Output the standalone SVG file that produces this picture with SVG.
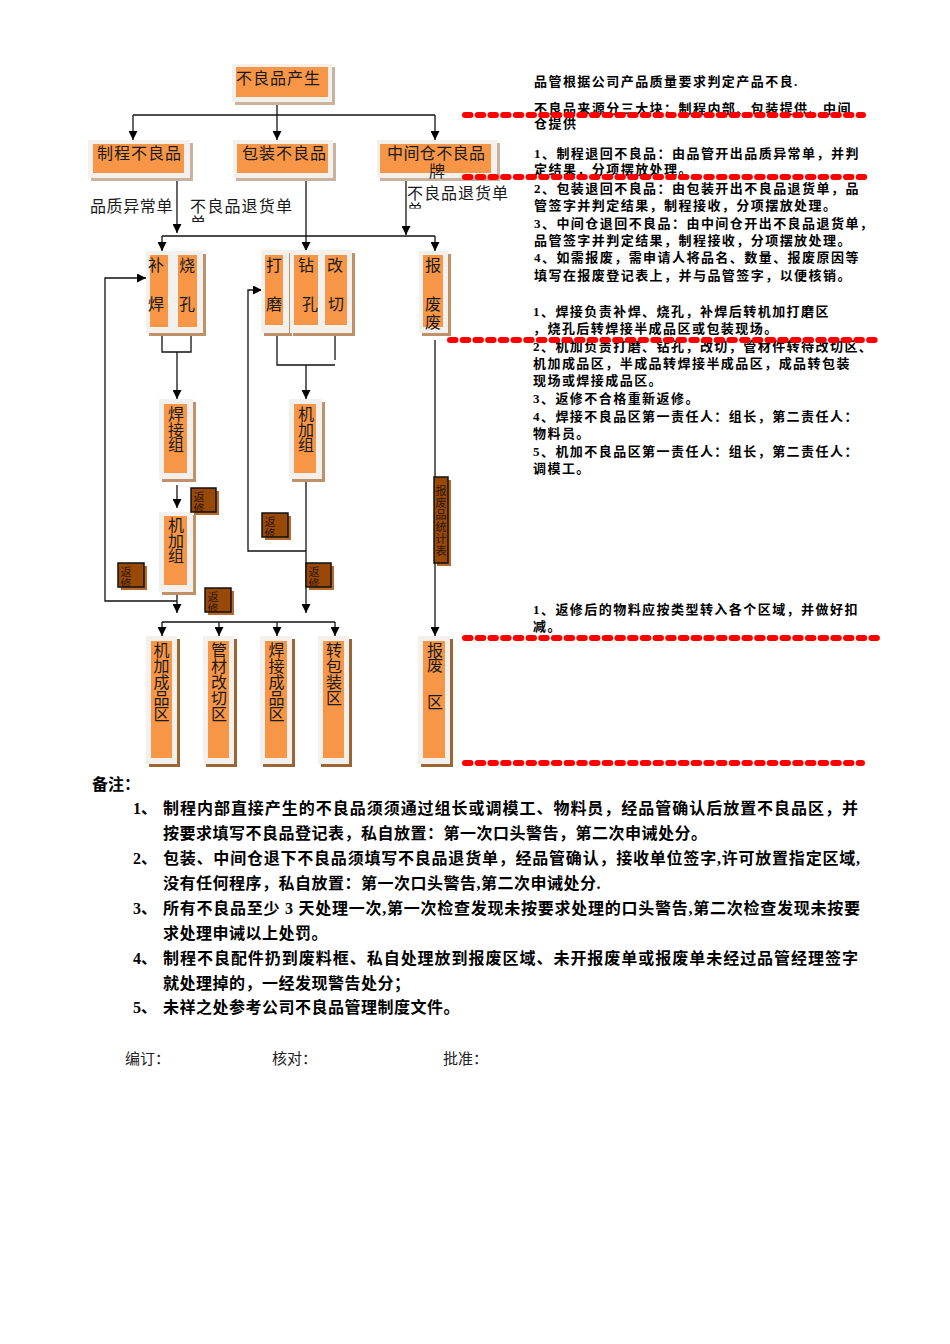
<svg xmlns="http://www.w3.org/2000/svg" width="950" height="1344" viewBox="0 0 950 1344">
<defs>
<style>
.sh{fill:#c9b39e}
.shv{fill:#c09068}
.shd{fill:#9c6536}
.out{fill:#f3f0ed}
.in{fill:#f79646}
.t{font-family:"Noto Sans CJK SC",sans-serif;font-size:16px;fill:#1a1a1a}
.tl{letter-spacing:1px}
.v{writing-mode:vertical-rl}
.ln{fill:none;stroke:#111;stroke-width:1.3}
.ar{marker-end:url(#ah)}
.rx{fill:#984807;stroke:#111;stroke-width:1.5}
.rxs{fill:#b8692e}
.rt{font-family:"Noto Sans CJK SC",sans-serif;font-size:11px;fill:#2e1400;letter-spacing:1px}
.p{font-family:"Liberation Serif","Noto Sans CJK SC",serif;font-size:13px;font-weight:bold;fill:#000;letter-spacing:1.45px}
.n{font-family:"Liberation Serif","Noto Sans CJK SC",serif;font-size:16px;font-weight:bold;fill:#000}
.nl{letter-spacing:0.5px}
.s{font-family:"Liberation Serif","Noto Sans CJK SC",serif;font-size:15px;fill:#222}
.red{fill:none;stroke:#f00;stroke-width:6;stroke-linecap:round;stroke-dasharray:5.5 7.2}
</style>
<marker id="ah" markerUnits="userSpaceOnUse" markerWidth="9" markerHeight="9" refX="9" refY="4.5" orient="auto"><path d="M0,0L9,4.5L0,9z" fill="#000"/></marker>
<clipPath id="c1"><rect x="186" y="190" width="120" height="32"/></clipPath>
<clipPath id="c2"><rect x="403" y="178" width="120" height="30.5"/></clipPath>
<clipPath id="r1c"><rect x="191" y="488" width="25" height="24"/></clipPath>
<clipPath id="r2c"><rect x="118" y="563" width="26" height="24"/></clipPath>
<clipPath id="r3c"><rect x="205" y="588" width="26" height="24"/></clipPath>
<clipPath id="r4c"><rect x="262" y="513" width="26" height="24"/></clipPath>
<clipPath id="r5c"><rect x="306" y="563" width="25" height="24"/></clipPath>
</defs>

<!-- connectors -->
<g id="connectors">
<path class="ln" d="M277,102V115"/>
<path class="ln" d="M133,115H435"/>
<path class="ln ar" d="M133,115V140"/>
<path class="ln ar" d="M277,115V140"/>
<path class="ln ar" d="M435,115V140"/>
<path class="ln ar" d="M177,178V233"/>
<path class="ln ar" d="M306,178V251"/>
<path class="ln ar" d="M406,178V235"/>
<path class="ln" d="M162,236H435"/>
<path class="ln ar" d="M162,236V251"/>
<path class="ln ar" d="M435,236V251"/>
<path class="ln" d="M162,336V352H191V336"/>
<path class="ln ar" d="M177,352V399"/>
<path class="ln" d="M277,336V365H335"/>
<path class="ln" d="M335,336V360"/>
<path class="ln ar" d="M306,365V399"/>
<path class="ln ar" d="M435,340V636"/>
<path class="ln ar" d="M177,485V508"/>
<path class="ln ar" d="M177,592V613"/>
<path class="ln ar" d="M306,479V613"/>
<path class="ln ar" d="M177,601H105V278H146"/>
<path class="ln ar" d="M306,551H248V290H262"/>
<path class="ln" d="M162,622H335"/>
<path class="ln ar" d="M162,622V636"/>
<path class="ln ar" d="M219,622V636"/>
<path class="ln ar" d="M277,622V636"/>
<path class="ln ar" d="M335,622V636"/>
</g>

<!-- top row -->
<g id="n-produce">
<rect class="sh" x="235" y="67" width="100" height="38"/>
<rect class="out" x="232" y="64" width="100" height="38"/>
<rect class="in" x="236" y="67" width="92" height="30"/>
<text class="t tl" x="236" y="84">不良品产生</text>
</g>
<g id="n-process">
<rect class="sh" x="91" y="143" width="102" height="38"/>
<rect class="out" x="88" y="140" width="102" height="38"/>
<rect class="in" x="93" y="144" width="91" height="29"/>
<text class="t tl" x="97" y="159">制程不良品</text>
</g>
<g id="n-pack">
<rect class="sh" x="236" y="143" width="100" height="38"/>
<rect class="out" x="233" y="140" width="100" height="38"/>
<rect class="in" x="237" y="144" width="91" height="29"/>
<text class="t tl" x="242" y="159">包装不良品</text>
</g>
<g id="n-warehouse">
<rect class="sh" x="380" y="143" width="120" height="38"/>
<rect class="out" x="377" y="140" width="120" height="38"/>
<rect class="in" x="380" y="144" width="111" height="29"/>
<text class="t" letter-spacing="0.4"><tspan x="387" y="159">中间仓不良品</tspan><tspan x="429" y="177">牌</tspan></text>
</g>

<!-- labels -->
<g id="labels">
<text class="t" x="90" y="212" letter-spacing="0.6">品质异常单</text>
<text class="t" letter-spacing="1.2" clip-path="url(#c1)"><tspan x="190" y="212">不良品退货单</tspan><tspan x="190" y="229">单</tspan></text>
<text class="t" letter-spacing="1" clip-path="url(#c2)"><tspan x="407" y="199">不良品退货单</tspan><tspan x="407" y="216">单</tspan></text>
</g>

<!-- third row -->
<g id="n-buhan">
<rect class="shv" x="149" y="254" width="28" height="82"/>
<rect class="out" x="146" y="251" width="28" height="82"/>
<rect class="in" x="150" y="255" width="18" height="72"/>
<text class="t" x="148" y="271">补</text><text class="t" x="148" y="310">焊</text>
</g>
<g id="n-shaokong">
<rect class="shv" x="177" y="254" width="29" height="82"/>
<rect class="out" x="174" y="251" width="29" height="82"/>
<rect class="in" x="178" y="255" width="19" height="72"/>
<text class="t" x="179" y="271">烧</text><text class="t" x="179" y="310">孔</text>
</g>
<g id="n-damo">
<rect class="shv" x="264" y="253" width="28" height="83"/>
<rect class="out" x="261" y="250" width="28" height="83"/>
<rect class="in" x="265" y="255" width="18" height="70"/>
<text class="t" x="266" y="271">打</text><text class="t" x="266" y="310">磨</text>
</g>
<g id="n-zuankong">
<rect class="shv" x="293" y="253" width="32" height="83"/>
<rect class="out" x="290" y="250" width="32" height="83"/>
<rect class="in" x="294" y="255" width="24" height="70"/>
<text class="t" x="298" y="271">钻</text><text class="t" x="302" y="310">孔</text>
</g>
<g id="n-gaiqie">
<rect class="shv" x="325" y="253" width="30" height="83"/>
<rect class="out" x="322" y="250" width="30" height="83"/>
<rect class="in" x="325" y="255" width="22" height="70"/>
<text class="t" x="327" y="271">改</text><text class="t" x="328" y="310">切</text>
</g>
<g id="n-baofei">
<rect class="shv" x="422" y="254" width="29" height="82"/>
<rect class="out" x="419" y="251" width="29" height="82"/>
<rect class="in" x="423" y="255" width="20" height="72"/>
<text class="t" x="425" y="271">报</text>
<text class="t v" x="433" y="296" letter-spacing="2">废废</text>
</g>

<!-- middle -->
<g id="n-hanjiezu">
<rect class="shv" x="162" y="402" width="34" height="80"/>
<rect class="out" x="159" y="399" width="34" height="80"/>
<rect class="in" x="164" y="404" width="23" height="69"/>
<text class="t v" x="176" y="406" letter-spacing="-0.5">焊接组</text>
</g>
<g id="n-jijiazu1">
<rect class="shv" x="162" y="515" width="34" height="80"/>
<rect class="out" x="159" y="512" width="34" height="80"/>
<rect class="in" x="164" y="516" width="23" height="69"/>
<text class="t v" x="176" y="517" letter-spacing="-0.5">机加组</text>
</g>
<g id="n-jijiazu2">
<rect class="shv" x="292" y="402" width="33" height="80"/>
<rect class="out" x="289" y="399" width="33" height="80"/>
<rect class="in" x="294" y="404" width="22" height="69"/>
<text class="t v" x="306" y="406" letter-spacing="-0.5">机加组</text>
</g>

<!-- rework boxes -->
<g id="r1">
<rect class="rxs" x="194" y="491" width="25" height="24"/>
<rect class="rx" x="191" y="488" width="25" height="24"/>
<text class="rt v" x="199" y="491.5" clip-path="url(#r1c)">返修</text>
</g>
<g id="r2">
<rect class="rxs" x="121" y="566" width="26" height="24"/>
<rect class="rx" x="118" y="563" width="26" height="24"/>
<text class="rt v" x="126" y="566.5" clip-path="url(#r2c)">返修</text>
</g>
<g id="r3">
<rect class="rxs" x="208" y="591" width="26" height="24"/>
<rect class="rx" x="205" y="588" width="26" height="24"/>
<text class="rt v" x="213" y="591.5" clip-path="url(#r3c)">返修</text>
</g>
<g id="r4">
<rect class="rxs" x="265" y="516" width="26" height="24"/>
<rect class="rx" x="262" y="513" width="26" height="24"/>
<text class="rt v" x="270" y="516.5" clip-path="url(#r4c)">返修</text>
</g>
<g id="r5">
<rect class="rxs" x="309" y="566" width="25" height="24"/>
<rect class="rx" x="306" y="563" width="25" height="24"/>
<text class="rt v" x="314" y="566.5" clip-path="url(#r5c)">返修</text>
</g>
<g id="n-scrapstat">
<rect class="rxs" x="437" y="480" width="14" height="86"/>
<rect class="rx" x="434" y="477" width="14" height="86"/>
<text class="rt v" x="441" y="485" font-size="10" letter-spacing="0.5">报废品统计表</text>
</g>

<!-- bottom row -->
<g id="n-jjcp">
<rect class="shd" x="149" y="639" width="31" height="128"/>
<rect class="out" x="146" y="636" width="31" height="128"/>
<rect class="in" x="151" y="641" width="21" height="117"/>
<text class="t v" x="161.5" y="642">机加成品区</text>
</g>
<g id="n-gcgq">
<rect class="shd" x="206" y="639" width="31" height="128"/>
<rect class="out" x="203" y="636" width="31" height="128"/>
<rect class="in" x="208" y="641" width="21" height="117"/>
<text class="t v" x="219" y="642">管材改切区</text>
</g>
<g id="n-hjcp">
<rect class="shd" x="263" y="639" width="32" height="128"/>
<rect class="out" x="260" y="636" width="32" height="128"/>
<rect class="in" x="265" y="641" width="22" height="117"/>
<text class="t v" x="276.5" y="642">焊接成品区</text>
</g>
<g id="n-zbz">
<rect class="shd" x="321" y="639" width="31" height="128"/>
<rect class="out" x="318" y="636" width="31" height="128"/>
<rect class="in" x="323" y="641" width="21" height="117"/>
<text class="t v" x="334" y="642">转包装区</text>
</g>
<g id="n-bfq">
<rect class="shd" x="421" y="639" width="32" height="128"/>
<rect class="out" x="418" y="636" width="32" height="128"/>
<rect class="in" x="423" y="641" width="22" height="117"/>
<text class="t v" x="435" y="642" letter-spacing="-1">报废</text>
<text class="t v" x="435" y="694">区</text>
</g>

<!-- right panel -->
<g id="panel">
<text class="p" x="534" y="86">品管根据公司产品质量要求判定产品不良.</text>
<text class="p" x="534" y="113">不良品来源分三大块：制程内部、包装提供、中间</text>
<text class="p" x="534" y="128">仓提供</text>
<text class="p" x="534" y="158">1、制程退回不良品：由品管开出品质异常单，并判</text>
<text class="p" x="534" y="174">定结果，分项摆放处理。</text>
<text class="p" x="534" y="193">2、包装退回不良品：由包装开出不良品退货单，品</text>
<text class="p" x="534" y="210">管签字并判定结果，制程接收，分项摆放处理。</text>
<text class="p" x="534" y="228">3、中间仓退回不良品：由中间仓开出不良品退货单，</text>
<text class="p" x="534" y="245">品管签字并判定结果，制程接收，分项摆放处理。</text>
<text class="p" x="534" y="262">4、如需报废，需申请人将品名、数量、报废原因等</text>
<text class="p" x="534" y="280">填写在报废登记表上，并与品管签字，以便核销。</text>
<text class="p" x="533" y="316">1、焊接负责补焊、烧孔，补焊后转机加打磨区</text>
<text class="p" x="533" y="333">，烧孔后转焊接半成品区或包装现场。</text>
<text class="p" x="533" y="351">2、机加负责打磨、钻孔，改切，管材件转待改切区、</text>
<text class="p" x="533" y="368">机加成品区，半成品转焊接半成品区，成品转包装</text>
<text class="p" x="533" y="385">现场或焊接成品区。</text>
<text class="p" x="533" y="403">3、返修不合格重新返修。</text>
<text class="p" x="533" y="421">4、焊接不良品区第一责任人：组长，第二责任人：</text>
<text class="p" x="533" y="438">物料员。</text>
<text class="p" x="533" y="456">5、机加不良品区第一责任人：组长，第二责任人：</text>
<text class="p" x="533" y="473">调模工。</text>
<text class="p" x="533" y="614">1、返修后的物料应按类型转入各个区域，并做好扣</text>
<text class="p" x="533" y="631">减。</text>
</g>

<g id="red-lines">
<path class="red" d="M465,115H863"/>
<path class="red" d="M465,177H870"/>
<path class="red" d="M450,340H876"/>
<path class="red" d="M465,638H879"/>
<path class="red" d="M465,763H862"/>
</g>

<!-- notes -->
<g id="notes">
<text class="n" x="92" y="790">备注：</text>
<text class="n" x="133" y="814">1、</text>
<text class="n" x="163" y="814" textLength="695" lengthAdjust="spacing">制程内部直接产生的不良品须须通过组长或调模工、物料员，经品管确认后放置不良品区，并</text>
<text class="n nl" x="163" y="839">按要求填写不良品登记表，私自放置：第一次口头警告，第二次申诫处分。</text>
<text class="n" x="133" y="864">2、</text>
<text class="n" x="163" y="864" textLength="697" lengthAdjust="spacing">包装、中间仓退下不良品须填写不良品退货单，经品管确认，接收单位签字,许可放置指定区域,</text>
<text class="n nl" x="163" y="889">没有任何程序，私自放置：第一次口头警告,第二次申诫处分.</text>
<text class="n" x="133" y="914">3、</text>
<text class="n" x="163" y="914" textLength="697" lengthAdjust="spacing">所有不良品至少 3 天处理一次,第一次检查发现未按要求处理的口头警告,第二次检查发现未按要</text>
<text class="n nl" x="163" y="939">求处理申诫以上处罚。</text>
<text class="n" x="133" y="964">4、</text>
<text class="n" x="163" y="964" textLength="695" lengthAdjust="spacing">制程不良配件扔到废料框、私自处理放到报废区域、未开报废单或报废单未经过品管经理签字</text>
<text class="n nl" x="163" y="989">就处理掉的，一经发现警告处分；</text>
<text class="n" x="133" y="1013">5、</text>
<text class="n nl" x="163" y="1013">未祥之处参考公司不良品管理制度文件。</text>
<text class="s" x="125" y="1064">编订：</text>
<text class="s" x="272" y="1064">核对：</text>
<text class="s" x="443" y="1064">批准：</text>
</g>
</svg>
